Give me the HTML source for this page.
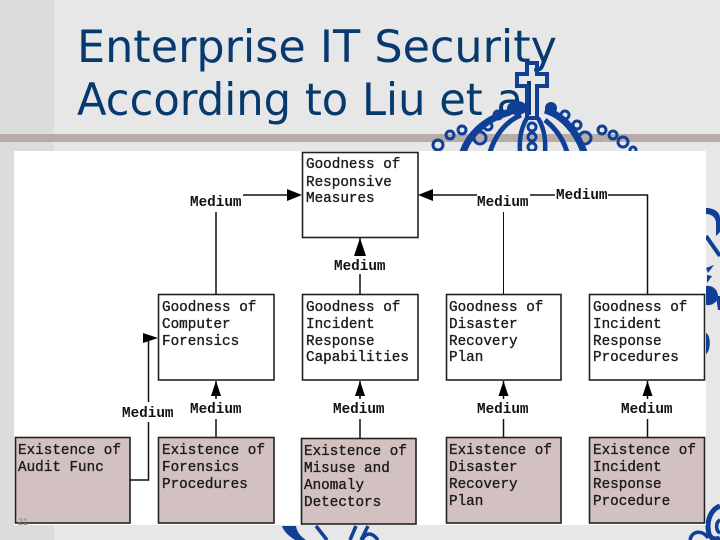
<!DOCTYPE html>
<html><head><meta charset="utf-8"><style>
html,body{margin:0;padding:0;background:#e7e7e7}
svg{display:block}
.t{font-family:"DejaVu Sans","Liberation Sans",sans-serif;font-size:44.5px;fill:#063a6e}
.m{font-family:"Liberation Mono",monospace;font-size:14.3px;font-weight:400;fill:#1c1c1c;stroke:#1c1c1c;stroke-width:.35}
.l{font-family:"Liberation Mono",monospace;font-size:14.3px;fill:#111;font-weight:700}
.b{fill:#fff;stroke:#222;stroke-width:1.6}
.p{fill:#d3c0c1;stroke:#222;stroke-width:1.6}
.c{stroke:#111;stroke-width:1.5;fill:none}
.o{fill:none;stroke:#0f3f96}
.f{fill:#0f3f96}
</style></head><body>
<svg width="720" height="540" viewBox="0 0 720 540" xmlns="http://www.w3.org/2000/svg">
<rect width="720" height="540" fill="#e7e7e7"/>
<rect width="54" height="540" fill="#dcdcdc"/>
<rect y="134" width="720" height="8" fill="#b8aca6"/>
<text class="t" x="77" y="62" textLength="480" lengthAdjust="spacingAndGlyphs">Enterprise IT Security</text>
<text class="t" x="77" y="115" textLength="458" lengthAdjust="spacingAndGlyphs">According to Liu et al</text>

<!-- crown ornament -->
<path class="o" stroke-width="4" d="M527 63h10v11h10v12h-10v32h-10v-32h-10v-12h10z"/>
<ellipse class="f" cx="517" cy="108" rx="10" ry="7"/>
<circle class="f" cx="551" cy="108" r="6"/>
<path class="o" stroke-width="7" d="M463 152C470 132 488 118 510 112M545 110C562 115 576 130 584 152"/>
<path class="o" stroke-width="5" d="M490 152C495 136 505 122 521 115M545 120C555 128 563 138 567 152"/>
<path class="o" stroke-width="4.500" d="M520 152C519 138 522 126 527 118M545 152C546 138 543 126 538 118"/>
<g class="o" stroke-width="3" fill="#e7e7e7">
<circle cx="438" cy="145" r="5"/><circle cx="450" cy="135" r="4"/><circle cx="462" cy="130" r="4"/>
<circle cx="480" cy="138" r="6"/><circle cx="488" cy="126" r="4"/><circle cx="498" cy="115" r="4"/>
<circle cx="532" cy="127" r="4"/><circle cx="532" cy="137" r="4"/><circle cx="532" cy="147" r="4"/>
<circle cx="565" cy="115" r="4"/><circle cx="577" cy="125" r="4"/><circle cx="585" cy="138" r="6"/>
<circle cx="602" cy="130" r="4"/><circle cx="613" cy="135" r="4"/><circle cx="623" cy="142" r="5"/><circle cx="633" cy="150" r="3"/>
</g>

<!-- right ornament -->
<path class="f" d="M706 208C714 208 720 212 720 218V232L716 236V222C715 216 710 214 706 214z"/>
<path class="o" stroke-width="4" d="M706 236L720 256"/>
<path class="f" d="M706 268L714 265 708 273zM707 275L712 276 707 283z"/>
<path class="f" d="M706 286C713 285 718 290 718 296C718 302 712 306 706 305zM716 296H720V310H718z"/>
<path class="f" d="M706 333C711 335 711 351 706 354z"/>

<!-- bottom ornaments -->
<path class="f" d="M282 526H296C297 532 300 536 306 540H295C289 536 284 532 282 526z"/>
<path class="o" stroke-width="3.500" d="M316 526L327 540M356 526L350 540M368 526L361 540"/>
<path class="o" stroke-width="3.500" d="M362 540C366 532 372 532 378 540"/>
<path class="o" stroke-width="5" d="M720 506C710 510 706 522 709 534 711 539 716 540 720 538"/>
<path class="o" stroke-width="3.500" d="M690 540C692 530 703 530 708 538M720 520C716 522 715 530 720 533"/>

<!-- panel -->
<rect x="14" y="151" width="692" height="374" fill="#fff"/>

<!-- connectors -->
<g class="c">
<path d="M216 212V294M243 195H290"/>
<path d="M360 238V256M360 274V294"/>
<path d="M530 195H555M608 195H647.500V294M477 195H430"/>
<path d="M503.500 212V294" stroke-width="1"/>
<path d="M130 480H148.500V422M148.500 402V338H147"/>
<path d="M216 419V437M216 381V399"/>
<path d="M360 419V438M360 381V399"/>
<path d="M503.500 419V437M503.500 381V399"/>
<path d="M647.500 419V437M647.500 381V399"/>
</g>
<g fill="#000">
<path d="M302 195L287 189V201z"/>
<path d="M418 195L433 189V201z"/>
<path d="M360 238L354 256H366z"/>
<path d="M158 338L143 333V343z"/>
<path d="M216 381L211 396H221z"/>
<path d="M360 381L355 396H365z"/>
<path d="M503.500 381L498.500 396H508.500z"/>
<path d="M647.500 381L642.500 396H652.500z"/>
</g>

<!-- boxes -->
<rect class="b" x="302.500" y="152.500" width="115.500" height="85"/>
<rect class="b" x="158.500" y="294.500" width="115.500" height="85.500"/>
<rect class="b" x="302.500" y="294.500" width="115.500" height="85.500"/>
<rect class="b" x="446.500" y="294.500" width="114.500" height="85.500"/>
<rect class="b" x="589.500" y="294.500" width="115" height="85.500"/>
<rect class="p" x="15.500" y="437.500" width="114.500" height="85.500"/>
<rect class="p" x="158.500" y="437.500" width="115.500" height="85.500"/>
<rect class="p" x="301.500" y="438.500" width="114.500" height="85.500"/>
<rect class="p" x="446.500" y="437.500" width="114.500" height="85.500"/>
<rect class="p" x="589.500" y="437.500" width="115" height="85.500"/>

<!-- box labels -->
<g class="m">
<text x="306" y="168">Goodness of</text><text x="306" y="186">Responsive</text><text x="306" y="202">Measures</text>

<text x="162" y="311">Goodness of</text><text x="162" y="328">Computer</text><text x="162" y="345">Forensics</text>
<text x="306" y="311">Goodness of</text><text x="306" y="328">Incident</text><text x="306" y="345">Response</text><text x="306" y="361">Capabilities</text>
<text x="449" y="311">Goodness of</text><text x="449" y="328">Disaster</text><text x="449" y="345">Recovery</text><text x="449" y="361">Plan</text>
<text x="593" y="311">Goodness of</text><text x="593" y="328">Incident</text><text x="593" y="345">Response</text><text x="593" y="361">Procedures</text>

<text x="18" y="454">Existence of</text><text x="18" y="471">Audit Func</text>
<text x="162" y="454">Existence of</text><text x="162" y="471">Forensics</text><text x="162" y="488">Procedures</text>
<text x="304" y="455">Existence of</text><text x="304" y="472">Misuse and</text><text x="304" y="489">Anomaly</text><text x="304" y="506">Detectors</text>
<text x="449" y="454">Existence of</text><text x="449" y="471">Disaster</text><text x="449" y="488">Recovery</text><text x="449" y="505">Plan</text>
<text x="593" y="454">Existence of</text><text x="593" y="471">Incident</text><text x="593" y="488">Response</text><text x="593" y="505">Procedure</text>
</g>

<!-- connector labels -->
<g class="l">
<text x="190" y="206">Medium</text>
<text x="334" y="270">Medium</text>
<text x="477" y="206">Medium</text>
<text x="556" y="199">Medium</text>
<text x="122" y="417">Medium</text>
<text x="190" y="413">Medium</text>
<text x="333" y="413">Medium</text>
<text x="477" y="413">Medium</text>
<text x="621" y="413">Medium</text>
</g>
<text x="18" y="525" font-family="Liberation Sans, sans-serif" font-size="9" fill="#8a8a8a">21</text>
</svg>
</body></html>
